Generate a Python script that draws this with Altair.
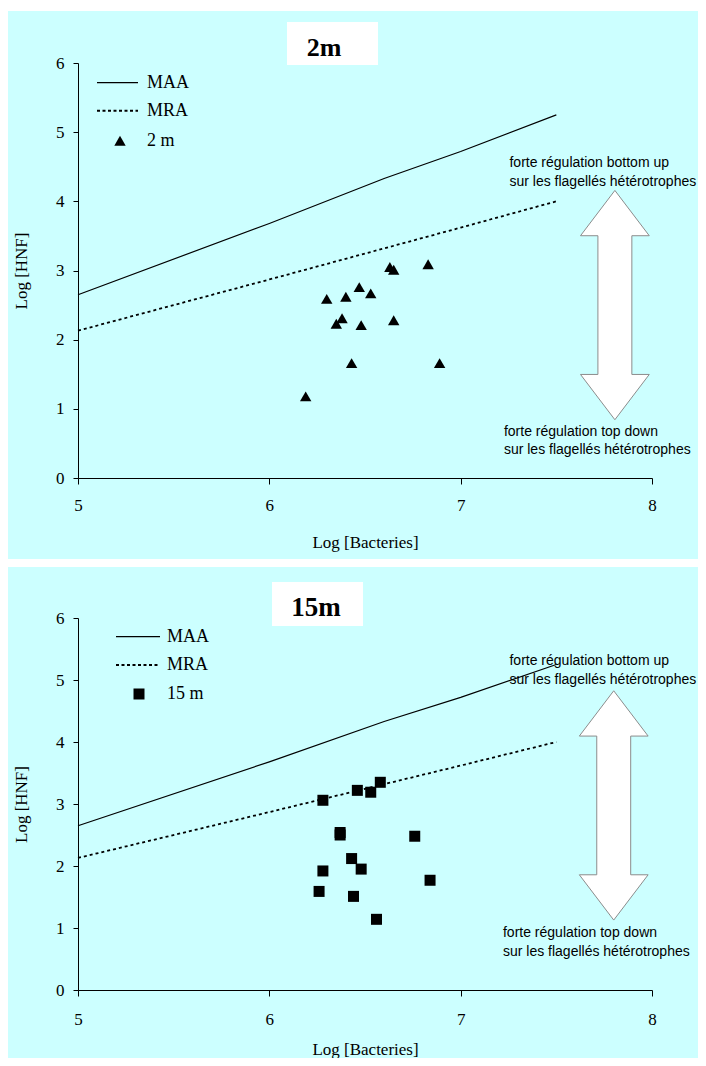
import altair as alt
import pandas as pd

# ---------------- data ----------------
x_ticks = [5, 6, 7, 8]
y_ticks = [0, 1, 2, 3, 4, 5, 6]

maa_x = [5.0, 6.0, 6.6, 7.0, 7.5]
maa_y = [2.65, 3.68, 4.33, 4.72, 5.25]
mra_x = [5.0, 6.0, 7.0, 7.5]
mra_y = [2.13, 2.87, 3.62, 4.0]

b2_x = [6.63, 6.65, 6.83, 6.47, 6.53, 6.40, 6.30, 6.38, 6.35, 6.48, 6.65, 6.43, 6.89, 6.19]
b2_y = [3.05, 3.01, 3.09, 2.76, 2.67, 2.62, 2.59, 2.31, 2.23, 2.21, 2.28, 1.66, 1.66, 1.18]

b15_x = [6.28, 6.46, 6.53, 6.58, 6.37, 6.37, 6.76, 6.43, 6.48, 6.28, 6.84, 6.26, 6.44, 6.56]
b15_y = [3.06, 3.22, 3.19, 3.35, 2.54, 2.50, 2.48, 2.12, 1.95, 1.92, 1.77, 1.59, 1.51, 1.14]

panel_titles = ["2m", "15m"]
line_labels = ["MAA", "MRA"]
point_labels = ["2 m", "15 m"]
annot_up = ["forte régulation bottom up", "sur les flagellés hétérotrophes"]
annot_down = ["forte régulation top down", "sur les flagellés hétérotrophes"]
x_title = "Log [Bacteries]"
y_title = "Log  [HNF]"

# ---------------- styling ----------------
CYAN = "#CCFFFF"
SERIF = "Liberation Serif"
SANS = "Liberation Sans"
ARROW = ("M0,-1L0.3,-0.605L0.148,-0.605L0.148,0.605L0.3,0.605L0,1"
         "L-0.3,0.605L-0.148,0.605L-0.148,-0.605L-0.3,-0.605Z")
PLOT_W = 574
one = pd.DataFrame({"k": [0]})

xs = alt.Scale(domain=[5, 8], nice=False, zero=False)
ys = alt.Scale(domain=[0, 6], nice=False, zero=False)


def panel(px, py, shape, msize, title, plabel, g):
    h = g["h"]
    xaxis = alt.Axis(values=x_ticks, title=x_title, grid=False, format="d",
                     tickSize=6, labelPadding=g["xlab_pad"], labelFlush=False,
                     domainColor="black", tickColor="black", labelColor="black",
                     labelFont=SERIF, labelFontSize=17, titleFont=SERIF,
                     titleFontSize=17, titleFontWeight="normal", titleColor="black",
                     titleY=g["xtitle_y"], titleBaseline="middle", zindex=1)
    yaxis = alt.Axis(values=y_ticks, title=y_title, grid=False, format="d",
                     tickSize=5, labelPadding=9, labelFlush=False,
                     domainColor="black", tickColor="black", labelColor="black",
                     labelFont=SERIF, labelFontSize=17, titleFont=SERIF,
                     titleFontSize=17, titleFontWeight="normal", titleColor="black",
                     titleX=-57, titleY=h / 2, titleAngle=270,
                     titleBaseline="middle", titleAlign="center", zindex=1)

    def X(f):
        return alt.X(f, type="quantitative", scale=xs, axis=xaxis)

    def Y(f):
        return alt.Y(f, type="quantitative", scale=ys, axis=yaxis)

    bg = alt.Chart(one).mark_rect(fill=CYAN).encode(
        x=alt.value(-70), x2=alt.value(620),
        y=alt.value(g["bg"][0]), y2=alt.value(g["bg"][1]))
    box = alt.Chart(one).mark_rect(fill="white").encode(
        x=alt.value(g["box"][0]), x2=alt.value(g["box"][1]),
        y=alt.value(g["box"][2]), y2=alt.value(g["box"][3]))
    ttl = alt.Chart(pd.DataFrame({"t": [title]})).mark_text(
        font=SERIF, fontSize=g["title_size"], fontWeight="bold", color="black",
        align="center", baseline="middle").encode(
        x=alt.value(g["title_pos"][0]), y=alt.value(g["title_pos"][1]), text="t:N")

    arrow = alt.Chart(pd.DataFrame({"x": [g["arrow"][0]], "y": [g["arrow"][1]]})).mark_point(
        shape=ARROW, size=52578, filled=True, fill="white", stroke="#8c8c8c",
        strokeWidth=1, opacity=1).encode(x=X("x"), y=Y("y"))

    ann_df = pd.DataFrame({
        "x": [g["ann_hi_x"], g["ann_hi_x"], g["ann_lo_x"], g["ann_lo_x"]],
        "y": [g["ann_hi"][0], g["ann_hi"][1], g["ann_lo"][0], g["ann_lo"][1]],
        "t": annot_up + annot_down})
    ann = alt.Chart(ann_df).mark_text(
        font=SANS, fontSize=14, color="black", align="left", baseline="middle").encode(
        x=X("x"), y=Y("y"), text="t:N")

    maa = alt.Chart(pd.DataFrame({"x": maa_x, "y": maa_y})).mark_line(
        color="black", strokeWidth=1.2).encode(x=X("x"), y=Y("y"))
    mra = alt.Chart(pd.DataFrame({"x": mra_x, "y": mra_y})).mark_line(
        color="black", strokeWidth=1.8, strokeDash=[3, 3]).encode(x=X("x"), y=Y("y"))
    pts = alt.Chart(pd.DataFrame({"x": px, "y": py})).mark_point(
        shape=shape, filled=True, color="black", size=msize, opacity=1).encode(
        x=X("x"), y=Y("y"))

    lx0, lx1, ltx = g["leg_x"]
    ly = g["leg_y"]
    leg1 = alt.Chart(one).mark_rule(color="black", strokeWidth=1.2).encode(
        x=alt.value(lx0), x2=alt.value(lx1), y=alt.value(ly[0]))
    leg2 = alt.Chart(one).mark_rule(color="black", strokeWidth=2, strokeDash=[3, 2.5]).encode(
        x=alt.value(lx0), x2=alt.value(lx1), y=alt.value(ly[1]))
    leg3 = alt.Chart(one).mark_point(shape=shape, filled=True, color="black",
                                      size=msize, opacity=1).encode(
        x=alt.value(g["sym_x"]), y=alt.value(ly[2]))
    legt = alt.Chart(pd.DataFrame({"t": line_labels + [plabel], "yy": ly})).mark_text(
        font=SERIF, fontSize=18, color="black", align="left", baseline="middle").encode(
        x=alt.value(ltx), y=alt.Y("yy:Q", scale=None, axis=None), text="t:N")

    return alt.layer(bg, box, ttl, arrow, ann, maa, mra, pts,
                     leg1, leg2, leg3, legt).properties(width=PLOT_W, height=h)


top_g = dict(h=415, bg=(-52, 496), box=(209, 300, -41, 2), title_pos=(246, -15),
             title_size=26, leg_x=(19, 60, 69), leg_y=[19.7, 47.7, 77.7], sym_x=42,
             arrow=(7.806, 2.5), ann_hi_x=7.255, ann_hi=(4.552, 4.277),
             ann_lo_x=7.226, ann_lo=(0.665, 0.405), xlab_pad=13, xtitle_y=64)
bot_g = dict(h=372, bg=(-51, 440), box=(194, 285, -36, 8), title_pos=(238, -10),
             title_size=27, leg_x=(38, 82, 89), leg_y=[18.7, 47, 76], sym_x=61,
             arrow=(7.80, 2.977), ann_hi_x=7.255, ann_hi=(5.311, 5.0),
             ann_lo_x=7.221, ann_lo=(0.924, 0.618), xlab_pad=15, xtitle_y=59)

top = panel(b2_x, b2_y, "triangle-up", 130, panel_titles[0], point_labels[0], top_g)
bottom = panel(b15_x, b15_y, "square", 121, panel_titles[1], point_labels[1], bot_g)

chart = alt.vconcat(top, bottom, spacing=8).properties(
    padding={"left": 0, "top": 3, "right": 0, "bottom": 0},
    background="white").configure_view(strokeWidth=0)

chart.save("out.html", embed_options={"renderer": "svg", "actions": False})
